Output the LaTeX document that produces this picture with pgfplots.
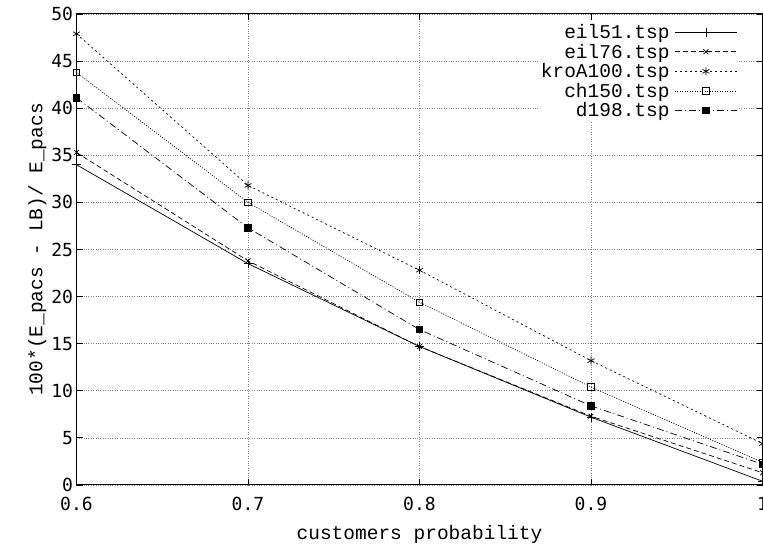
\documentclass[border=0pt]{standalone}
\usepackage{fontspec}
\setmainfont{Liberation Mono}
\newfontfamily\tickfont{DejaVu Sans Mono}
\usepackage{pgfplots}
\pgfplotsset{compat=1.18}
\begin{document}
\begin{tikzpicture}
\begin{axis}[
  scale only axis,
  width=686pt, height=471pt,
  xmin=0.6, xmax=1, ymin=0, ymax=50,
  xtick={0.6,0.7,0.8,0.9,1}, xticklabels={0.6,0.7,0.8,0.9,1},
  ytick={0,5,...,50},
  /pgf/number format/assume math mode=true,
  tick label style={font=\fontsize{18}{18}\selectfont\tickfont},
  xticklabel style={yshift=-9pt},
  yticklabel style={xshift=0pt},
  tick align=inside, major tick length=6pt,
  tick style={black, line width=0.8pt},
  axis line style={line width=1pt},
  grid=major,
  grid style={gray, dotted, line width=0.7pt},
  label style={font=\fontsize{19.5}{19.5}\selectfont},
  xlabel={customers probability},
  ylabel={100*(E\_pacs - LB)/ E\_pacs},
  xlabel style={yshift=-7pt},
  ylabel style={yshift=-2pt},
  legend cell align=right,
  legend plot pos=right,
  legend style={at={(rel axis cs:0.965,0.985)}, anchor=north east, draw=none, fill=white,
    font=\fontsize{19.5}{19.5}\selectfont, row sep=0pt, column sep=3pt, inner sep=1pt},
  legend image code/.code={\draw[#1,mark repeat=2,mark phase=2] plot coordinates {(0pt,0pt) (31pt,0pt) (62pt,0pt)};},
  every axis plot/.append style={black, line width=0.7pt},
]
\addplot[solid, mark=+, mark size=4.5pt, mark options={solid}] coordinates {(0.6,34.0) (0.7,23.5) (0.8,14.7) (0.9,7.2) (1.0,0.4)};
\addlegendentry{eil51.tsp}
\addplot[dash pattern=on 5pt off 3pt, mark=x, mark size=3.5pt, mark options={solid}] coordinates {(0.6,35.3) (0.7,23.8) (0.8,14.7) (0.9,7.3) (1.0,1.3)};
\addlegendentry{eil76.tsp}
\addplot[dash pattern=on 2pt off 3pt, mark=asterisk, mark size=4pt, mark options={solid}] coordinates {(0.6,47.9) (0.7,31.8) (0.8,22.8) (0.9,13.2) (1.0,4.4)};
\addlegendentry{kroA100.tsp}
\addplot[dash pattern=on 1pt off 1.5pt, mark=square, mark size=3.2pt, mark options={solid}] coordinates {(0.6,43.8) (0.7,30.0) (0.8,19.4) (0.9,10.4) (1.0,2.4)};
\addlegendentry{ch150.tsp}
\addplot[dash pattern=on 7pt off 3pt on 1pt off 3pt, mark=square*, mark size=3.2pt, mark options={solid}] coordinates {(0.6,41.1) (0.7,27.3) (0.8,16.5) (0.9,8.4) (1.0,2.2)};
\addlegendentry{d198.tsp}
\end{axis}
\pgfresetboundingbox
\path[use as bounding box] ([shift={(-76.5pt,-60pt)}]current axis.south west) rectangle ([shift={(0.5pt,14pt)}]current axis.north east);
\end{tikzpicture}
\end{document}
